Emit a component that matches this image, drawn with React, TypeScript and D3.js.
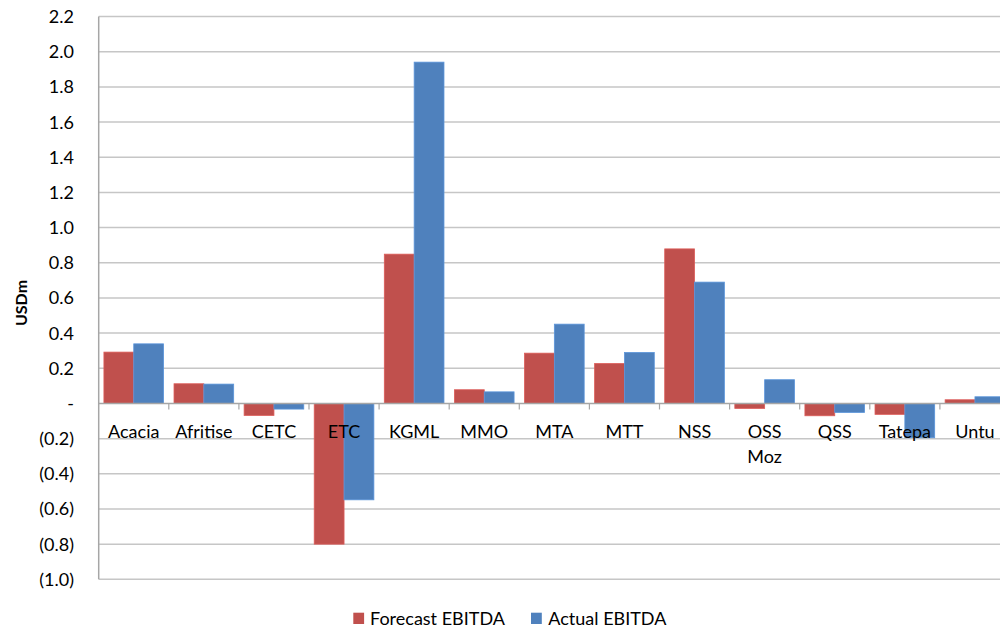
import React from "react";
import * as d3 from "d3";

const categories: string[][] = [
  ["Acacia"], ["Afritise"], ["CETC"], ["ETC"], ["KGML"], ["MMO"], ["MTA"],
  ["MTT"], ["NSS"], ["OSS", "Moz"], ["QSS"], ["Tatepa"], ["Untu"],
];
const forecastEBITDA: number[] = [0.292, 0.112, -0.068, -0.8, 0.849, 0.078, 0.286, 0.227, 0.879, -0.028, -0.07, -0.062, 0.021];
const actualEBITDA: number[] = [0.339, 0.11, -0.032, -0.548, 1.941, 0.066, 0.451, 0.29, 0.69, 0.135, -0.051, -0.195, 0.038];
const seriesNames: string[] = ["Forecast EBITDA", "Actual EBITDA"];
const seriesColors: string[] = ["#C0504D", "#4F81BD"];
const yTicks: number[] = [-1.0, -0.8, -0.6, -0.4, -0.2, 0, 0.2, 0.4, 0.6, 0.8, 1.0, 1.2, 1.4, 1.6, 1.8, 2.0, 2.2];

const W = 1000;
const H = 631;
const left = 98.7;
const top = 16.6;
const bottom = 579.3;
const bandW = 70.1;
const FONT = "Lato, Calibri, 'Open Sans', sans-serif";
const FS = 18;

function fmt(v: number): string {
  if (Math.abs(v) < 1e-9) return "-";
  const s = Math.abs(v).toFixed(1);
  return v < 0 ? `(${s})` : s;
}

export default function App() {
  const keys = categories.map((c) => c.join(" "));
  const x0 = d3.scaleBand<string>().domain(keys).range([left, left + bandW * keys.length]).paddingInner(0).paddingOuter(0);
  const gapHalf = (x0.bandwidth() - (2 * x0.bandwidth()) / 2.35) / 2;
  const x1 = d3.scaleBand<string>().domain(seriesNames).range([gapHalf, x0.bandwidth() - gapHalf]).padding(0);
  const y = d3.scaleLinear().domain([-1.0, 2.2]).range([bottom, top]);
  const series = [forecastEBITDA, actualEBITDA];
  const y0 = y(0);

  return (
    <svg width={W} height={H} style={{ position: "absolute", left: 0, top: 0, display: "block", background: "#fff" }} fontFamily={FONT}>
      <rect x={0} y={0} width={W} height={H} fill="#fff" />
      {yTicks.map((t) => (
        <line key={`g${t}`} x1={left} x2={W} y1={y(t)} y2={y(t)} stroke={Math.abs(t) < 1e-9 ? "none" : "#C6C6C6"} strokeWidth={1.5} />
      ))}
      {keys.map((k, i) => (
        <g key={k} transform={`translate(${x0(k)},0)`}>
          {series.map((s, j) => {
            const v = s[i];
            const ya = y(Math.max(0, v));
            const yb = y(Math.min(0, v));
            return (
              <rect key={j} x={x1(seriesNames[j])!} y={ya} width={x1.bandwidth()} height={Math.max(0, yb - ya)}
                fill={seriesColors[j]} stroke={d3.color(seriesColors[j])!.brighter(0.4).toString()} strokeWidth={0.8} />
            );
          })}
        </g>
      ))}
      <line x1={left} x2={left} y1={top} y2={bottom} stroke="#A6A6A6" strokeWidth={1.5} />
      <line x1={left} x2={W} y1={y0} y2={y0} stroke="#A6A6A6" strokeWidth={1.5} />
      {keys.map((k) => (
        <line key={`t${k}`} x1={x0(k)! + bandW} x2={x0(k)! + bandW} y1={y0} y2={y0 + 6} stroke="#A6A6A6" strokeWidth={1.2} />
      ))}
      {yTicks.map((t) => (
        <text key={`l${t}`} x={74} y={y(t) + 6.4} textAnchor="end" fontSize={FS} fill="#000">{fmt(t)}</text>
      ))}
      {categories.map((c, i) => (
        <text key={`c${i}`} x={x0(keys[i])! + bandW / 2} y={437.5} textAnchor="middle" fontSize={FS} fill="#000">
          {c.map((line, li) => (
            <tspan key={li} x={x0(keys[i])! + bandW / 2} dy={li === 0 ? 0 : 25}>{line}</tspan>
          ))}
        </text>
      ))}
      <text transform={`translate(27,303) rotate(-90)`} textAnchor="middle" fontSize={16} fontWeight="bold" fill="#000">USDm</text>
      <g>
        <rect x={353.3} y={612.7} width={10.8} height={11.3} fill={seriesColors[0]} />
        <text x={370} y={625} fontSize={FS} fill="#000">{seriesNames[0]}</text>
        <rect x={531} y={612.7} width={10.8} height={11.3} fill={seriesColors[1]} />
        <text x={548.3} y={625} fontSize={FS} fill="#000">{seriesNames[1]}</text>
      </g>
    </svg>
  );
}
